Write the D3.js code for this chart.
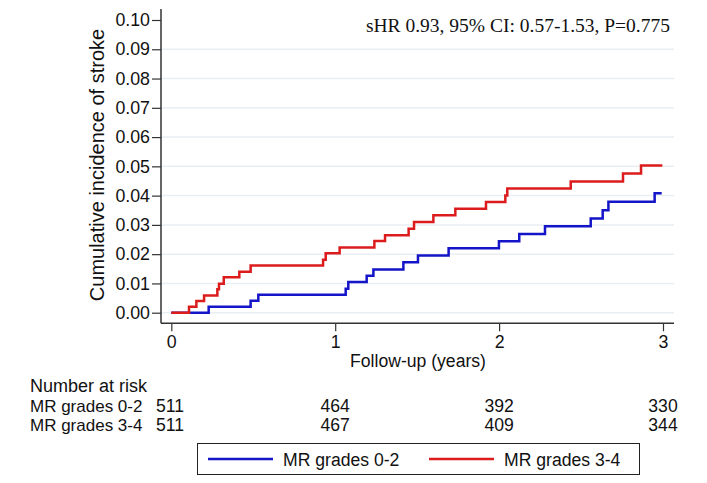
<!DOCTYPE html>
<html>
<head>
<meta charset="utf-8">
<script src="https://cdn.jsdelivr.net/npm/d3@7"></script>
<style>
  html, body { margin: 0; padding: 0; background: #fff; }
  svg { display: block; }
</style>
</head>
<body>
<svg id="chart" width="707" height="483"></svg>
<script>
// ---- Data ----
const groups = ["MR grades 0-2", "MR grades 3-4"];
const blueTimes = [0, 0.228, 0.484, 0.531, 1.064, 1.080, 1.192, 1.233, 1.416, 1.505, 1.692, 1.999, 2.123, 2.280, 2.559, 2.632, 2.667, 2.949, 2.992];
const blueVals  = [0, 0.0020, 0.0041, 0.0061, 0.0082, 0.0105, 0.0126, 0.0148, 0.0172, 0.0195, 0.0220, 0.0244, 0.0269, 0.0295, 0.0322, 0.0350, 0.0379, 0.0408, 0.0408];
const redTimes  = [0, 0.108, 0.153, 0.200, 0.281, 0.291, 0.320, 0.415, 0.484, 0.926, 0.942, 1.027, 1.239, 1.304, 1.448, 1.481, 1.599, 1.733, 1.920, 2.038, 2.050, 2.437, 2.756, 2.866, 2.996];
const redVals   = [0, 0.0020, 0.0040, 0.0059, 0.0080, 0.0099, 0.0121, 0.0140, 0.0161, 0.0181, 0.0203, 0.0223, 0.0245, 0.0265, 0.0287, 0.0310, 0.0333, 0.0355, 0.0378, 0.0400, 0.0424, 0.0448, 0.0476, 0.0503, 0.0503];
const xTicks = [0, 1, 2, 3];
const yTicks = [0, 0.01, 0.02, 0.03, 0.04, 0.05, 0.06, 0.07, 0.08, 0.09, 0.10];
const riskTimes = [0, 1, 2, 3];
const riskLow  = [511, 464, 392, 330];
const riskHigh = [511, 467, 409, 344];
const annotation = "sHR 0.93, 95% CI: 0.57-1.53, P=0.775";
const colors = ["#1414c8", "#dc1c1c"];

// ---- Layout ----
const svg = d3.select("#chart");
const sans = "'Liberation Sans', Arial, Helvetica, sans-serif";
const serif = "'Liberation Serif', 'Times New Roman', serif";
const axisX = 161, axisY = 323.3, plotRight = 674, plotTop = 9;

const x = d3.scaleLinear().domain([0, 3]).range([171.3, 663]);
const y = d3.scaleLinear().domain([0, 0.10]).range([312.7, 20]);

// gridlines
svg.append("g").selectAll("line")
  .data(yTicks.slice(0, -1))
  .join("line")
  .attr("x1", axisX).attr("x2", plotRight)
  .attr("y1", d => y(d)).attr("y2", d => y(d))
  .attr("stroke", "#e9eef3").attr("stroke-width", 1.5);

// y axis
const yAxis = svg.append("g").attr("transform", `translate(${axisX},0)`)
  .call(d3.axisLeft(y).tickValues(yTicks).tickFormat(d3.format(".2f")).tickSize(9).tickPadding(2));
yAxis.select(".domain").remove();
yAxis.selectAll("line").attr("stroke", "#333").attr("stroke-width", 1.2);
yAxis.selectAll("text").attr("font-family", sans).attr("font-size", 17.8).attr("fill", "#111");

// x axis
const xAxis = svg.append("g").attr("transform", `translate(0,${axisY})`)
  .call(d3.axisBottom(x).tickValues(xTicks).tickFormat(d3.format("d")).tickSize(8).tickPadding(4));
xAxis.select(".domain").remove();
xAxis.selectAll("line").attr("stroke", "#333").attr("stroke-width", 1.2);
xAxis.selectAll("text").attr("font-family", sans).attr("font-size", 17.8).attr("fill", "#111");

// axis lines
svg.append("line").attr("x1", axisX).attr("x2", axisX).attr("y1", plotTop).attr("y2", axisY)
  .attr("stroke", "#333").attr("stroke-width", 1.5);
svg.append("line").attr("x1", axisX).attr("x2", plotRight).attr("y1", axisY).attr("y2", axisY)
  .attr("stroke", "#333").attr("stroke-width", 1.5);

// axis titles
svg.append("text").attr("x", 418).attr("y", 367).attr("text-anchor", "middle")
  .attr("font-family", sans).attr("font-size", 17.6).attr("fill", "#111").text("Follow-up (years)");
svg.append("text").attr("transform", "translate(103.5,165) rotate(-90)").attr("text-anchor", "middle")
  .attr("font-family", sans).attr("font-size", 20).attr("fill", "#111").text("Cumulative incidence of stroke");

// curves
const line = d3.line().x(d => x(d[0])).y(d => y(d[1])).curve(d3.curveStepAfter);
const series = [d3.zip(blueTimes, blueVals), d3.zip(redTimes, redVals)];
svg.append("g").selectAll("path")
  .data(series)
  .join("path")
  .attr("d", line)
  .attr("fill", "none")
  .attr("stroke", (d, i) => colors[i])
  .attr("stroke-width", 2.5);

// annotation
svg.append("text").attr("x", 670).attr("y", 32).attr("text-anchor", "end")
  .attr("font-family", serif).attr("font-size", 19.5).attr("fill", "#111").text(annotation);

// number at risk
const tfs = 17.6;
svg.append("text").attr("x", 30).attr("y", 391.5).attr("font-family", sans).attr("font-size", 18)
  .attr("fill", "#111").text("Number at risk");
[riskLow, riskHigh].forEach((row, r) => {
  const yy = 412 + r * 18.5;
  svg.append("text").attr("x", 30).attr("y", yy).attr("font-family", sans).attr("font-size", 17)
    .attr("fill", "#111").text(groups[r]);
  svg.append("g").selectAll("text").data(row).join("text")
    .attr("x", (d, i) => i === 0 ? 170 : x(riskTimes[i]))
    .attr("y", yy).attr("text-anchor", "middle")
    .attr("font-family", sans).attr("font-size", tfs).attr("fill", "#111")
    .text(d => d);
});

// legend
const lg = svg.append("g");
lg.append("rect").attr("x", 197.5).attr("y", 443.5).attr("width", 442).attr("height", 31)
  .attr("fill", "#fff").attr("stroke", "#222").attr("stroke-width", 1);
const legX = [208, 429];
groups.forEach((g, i) => {
  lg.append("line").attr("x1", legX[i]).attr("x2", legX[i] + 65).attr("y1", 459).attr("y2", 459)
    .attr("stroke", colors[i]).attr("stroke-width", 2.5);
  lg.append("text").attr("x", legX[i] + 75).attr("y", 465.5).attr("font-family", sans).attr("font-size", 17.6)
    .attr("fill", "#111").text(g);
});
</script>
</body>
</html>
